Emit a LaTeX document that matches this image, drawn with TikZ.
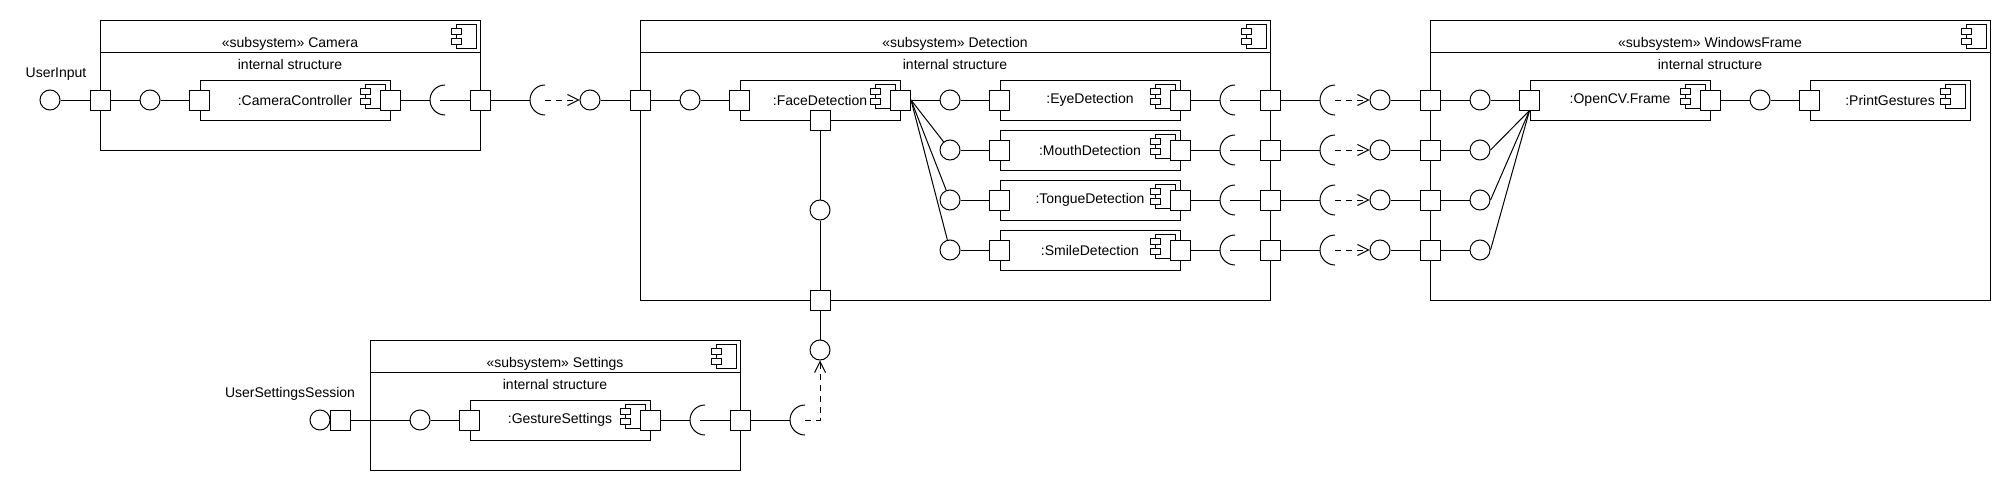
\documentclass[tikz,border=0pt]{standalone}
\usepackage{fontspec}
\setmainfont{Liberation Sans}
\usetikzlibrary{arrows.meta,positioning}

\tikzset{
  cicon/.pic={
    \draw[fill=white] (0,0) rectangle (20,24);
    \draw[fill=white] (-5,4) rectangle (5,10);
    \draw[fill=white] (-5,14) rectangle (5,20);
  },
  socket/.pic={
    \draw (0,-15) arc[start angle=270,end angle=90,radius=15];
  }
}

\begin{document}
\begin{tikzpicture}[
  x=1pt,y=-1pt,line width=1pt,
  font=\fontsize{14}{16}\selectfont,
  subsys/.style={rectangle,draw,inner sep=0pt},
  part/.style={rectangle,draw,minimum height=40pt,inner sep=0pt},
  port/.style={rectangle,draw,fill=white,minimum size=20pt,inner sep=0pt},
  ball/.style={circle,draw,fill=white,minimum size=20pt,inner sep=0pt},
  sock/.style={circle,minimum size=30pt,inner sep=0pt,outer sep=0pt},
  dep/.style={dash pattern=on 6pt off 5pt,-{Straight Barb[length=11pt,width=11pt]}}
]
  \useasboundingbox (0,0) rectangle (2010,490);

  % subsystems
  \node[subsys,minimum width=380pt,minimum height=130pt] (cam) at (290,85) {};
  \node[subsys,minimum width=630pt,minimum height=280pt] (det) at (955,160) {};
  \node[subsys,minimum width=560pt,minimum height=280pt] (win) at (1710,160) {};
  \node[subsys,minimum width=370pt,minimum height=130pt] (set) at (555,405) {};
  \draw ([yshift=-33pt]cam.north west) -- ([yshift=-33pt]cam.north east);
  \draw ([yshift=-33pt]det.north west) -- ([yshift=-33pt]det.north east);
  \draw ([yshift=-33pt]win.north west) -- ([yshift=-33pt]win.north east);
  \draw ([yshift=-33pt]set.north west) -- ([yshift=-33pt]set.north east);
  \pic at ([xshift=-24pt,yshift=-5pt]cam.north east) {cicon};
  \pic at ([xshift=-24pt,yshift=-5pt]det.north east) {cicon};
  \pic at ([xshift=-24pt,yshift=-5pt]win.north east) {cicon};
  \pic at ([xshift=-24pt,yshift=-5pt]set.north east) {cicon};
  \node (camT) at (290,44) {«subsystem» Camera};
  \node (camI) at (290,64) {internal structure};
  \node (detT) at (955,44) {«subsystem» Detection};
  \node (detI) at (955,64) {internal structure};
  \node (winT) at (1710,44) {«subsystem» WindowsFrame};
  \node (winI) at (1710,64) {internal structure};
  \node (setT) at (555,364) {«subsystem» Settings};
  \node (setI) at (555,384) {internal structure};

  % camera
  \node (uiT) at (56,74) {UserInput};
  \node[part,minimum width=190pt] (cc) at (295,100) {:CameraController};
  \pic at ([xshift=-25pt,yshift=-5pt]cc.north east) {cicon};
  \node[ball] (uiB) at (50,100) {};
  \node[port] (camL) at (100,100) {};
  \node[ball] (ccB) at (150,100) {};
  \node[port] (ccL) at (cc.west) {};
  \node[port] (ccR) at (cc.east) {};
  \node[sock] (ccS) at (445,100) {};
  \node[port] (camR) at (480,100) {};
  \node[sock] (camS) at (545,100) {};
  \pic at (ccS) {socket};
  \pic at (camS) {socket};
  \draw (uiB) -- (camL) -- (ccB) -- (ccL);
  \draw (ccR) -- (ccS.west);
  \draw ([xshift=-5pt]ccS.center) -- (camR) -- (camS.west);

  % detection
  \node[part,minimum width=160pt] (fd) at (820,100) {:FaceDetection};
  \pic at ([xshift=-25pt,yshift=-5pt]fd.north east) {cicon};
  \node[ball] (detB) at (590,100) {};
  \node[port] (detL) at (640,100) {};
  \node[ball] (fdB) at (690,100) {};
  \node[port] (fdL) at (fd.west) {};
  \node[port] (fdR) at (fd.east) {};
  \node[port] (fdS) at (fd.south) {};
  \node[ball] (fdV) at (820,210) {};
  \node[port] (detS) at (820,300) {};
  \node[ball] (setB) at (820,350) {};
  \draw[dep] (camS.center) -- (detB);
  \draw (detB) -- (detL) -- (fdB) -- (fdL);
  \draw (fdS) -- (fdV) -- (detS) -- (setB);

  \foreach \n/\lab/\y in {eye/EyeDetection/100,mouth/MouthDetection/150,
      tongue/TongueDetection/200,smile/SmileDetection/250}{
    \node[part,minimum width=180pt] (\n) at (1090,\y) {:\lab};
    \pic at ([xshift=-25pt,yshift=-5pt]\n.north east) {cicon};
    \node[ball] (\n-b) at (950,\y) {};
    \node[port] (\n-l) at (\n.west) {};
    \node[port] (\n-r) at (\n.east) {};
    \node[sock] (\n-s) at (1235,\y) {};
    \node[port] (\n-p) at (1270,\y) {};
    \node[sock] (\n-t) at (1335,\y) {};
    \node[ball] (\n-w) at (1380,\y) {};
    \node[port] (\n-q) at (1430,\y) {};
    \node[ball] (\n-i) at (1480,\y) {};
    \pic at (\n-s) {socket};
    \pic at (\n-t) {socket};
    \draw (fdR.east) -- (\n-b);
    \draw (\n-b) -- (\n-l);
    \draw (\n-r) -- (\n-s.west);
    \draw ([xshift=-5pt]\n-s.center) -- (\n-p) -- (\n-t.west);
    \draw[dep] (\n-t.center) -- (\n-w);
    \draw (\n-w) -- (\n-q) -- (\n-i);
  }

  % windows frame
  \node[part,minimum width=180pt] (ocv) at (1620,100) {:OpenCV.Frame};
  \pic at ([xshift=-25pt,yshift=-5pt]ocv.north east) {cicon};
  \node[part,minimum width=160pt] (pg) at (1890,100) {:PrintGestures};
  \pic at ([xshift=-25pt,yshift=-5pt]pg.north east) {cicon};
  \node[port] (ocvL) at (ocv.west) {};
  \node[port] (ocvR) at (ocv.east) {};
  \node[ball] (ocvB) at (1760,100) {};
  \node[port] (pgL) at (pg.west) {};
  \draw (eye-i) -- (ocvL);
  \draw (mouth-i.east) -- (ocvL.south);
  \draw (tongue-i.east) -- (ocvL.south);
  \draw (smile-i.east) -- (ocvL.south);
  \draw (ocvR) -- (ocvB) -- (pgL);

  % settings
  \node (usT) at (290,394) {UserSettingsSession};
  \node[part,minimum width=180pt] (gs) at (560,420) {:GestureSettings};
  \pic at ([xshift=-25pt,yshift=-5pt]gs.north east) {cicon};
  \node[ball] (usB) at (320,420) {};
  \node[port] (usP) at (340,420) {};
  \node[ball] (gsB) at (420,420) {};
  \node[port] (gsL) at (gs.west) {};
  \node[port] (gsR) at (gs.east) {};
  \node[sock] (gsS) at (705,420) {};
  \node[port] (setR) at (740,420) {};
  \node[sock] (setS) at (805,420) {};
  \pic at (gsS) {socket};
  \pic at (setS) {socket};
  \draw (usP) -- (gsB) -- (gsL);
  \draw (gsR) -- (gsS.west);
  \draw ([xshift=-5pt]gsS.center) -- (setR) -- (setS.west);
  \draw[dep] (setS.center) -| (setB);
\end{tikzpicture}
\end{document}
